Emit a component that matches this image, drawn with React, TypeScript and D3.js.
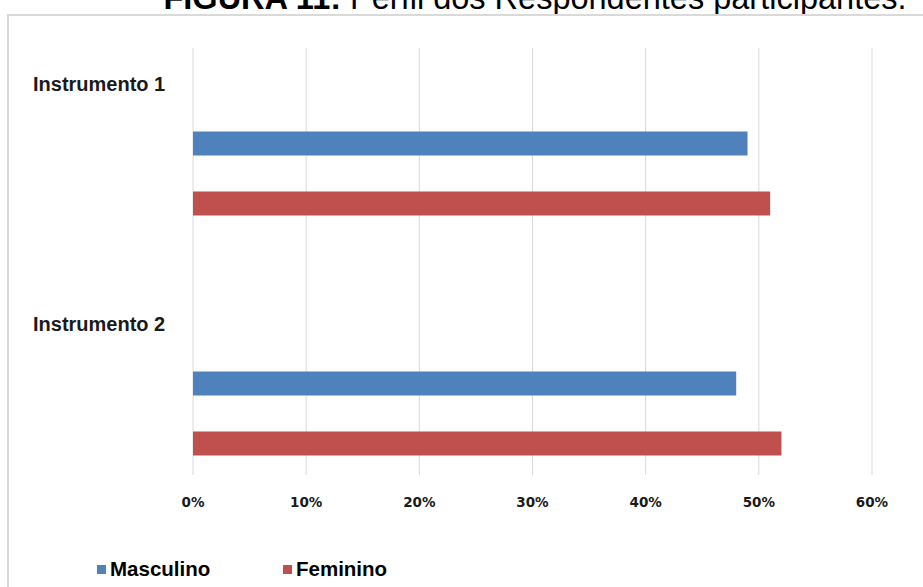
import React from "react";
import * as d3 from "d3";

const categories = ["Instrumento 1", "Instrumento 2"];
const seriesNames = ["Masculino", "Feminino"];
const masculino = [0.49, 0.48];
const feminino = [0.51, 0.52];
const tickValues = [0, 0.1, 0.2, 0.3, 0.4, 0.5, 0.6];
const colors = ["#4F81BD", "#C0504D"];

const W = 923;
const H = 587;

export default function App() {
  const rows: string[] = [];
  categories.forEach((c, i) => {
    rows.push(`cat-${i}`, `s0-${i}`, `s1-${i}`);
    if (i < categories.length - 1) rows.push(`gap-${i}`);
  });
  const y = d3.scaleBand<string>().domain(rows).range([53.5, 473.5]).paddingInner(0).paddingOuter(0);
  const x = d3.scaleLinear().domain([0, 0.6]).range([193, 872]);
  const barH = 24;
  const values = [masculino, feminino];
  const fmt = d3.format(".0%");
  const font = "'Liberation Sans', Arial, sans-serif";

  return (
    <svg width={W} height={H} style={{ position: "absolute", left: 0, top: 0, background: "#fff" }} fontFamily={font}>
      <rect x={0} y={0} width={W} height={H} fill="#fff" />
      {/* Title (cropped at top) */}
      <text x={535} y={9} textAnchor="middle" fontSize={32.5} fill="#000">
        <tspan fontWeight="bold">FIGURA 11:</tspan>
        <tspan> Perfil dos Respondentes participantes.</tspan>
      </text>
      {/* chart border */}
      <path d={`M8,${H + 5} V15 H${W + 5}`} fill="none" stroke="#d9d9d9" strokeWidth={2} />
      {/* gridlines */}
      {tickValues.map((t) => (
        <line key={t} x1={x(t)} x2={x(t)} y1={48} y2={475} stroke="#d9d9d9" strokeWidth={1} />
      ))}
      {/* bars */}
      {categories.map((c, i) =>
        values.map((vals, s) => {
          const band = y(`s${s}-${i}`)!;
          const cy = band + y.bandwidth() / 2;
          return (
            <rect
              key={`${i}-${s}`}
              x={x(0)}
              y={cy - barH / 2}
              width={x(vals[i]) - x(0)}
              height={barH}
              fill={colors[s]}
            />
          );
        })
      )}
      {/* category labels */}
      {categories.map((c, i) => (
        <text
          key={c}
          x={33}
          y={y(`cat-${i}`)! + y.bandwidth() / 2}
          dy="0.35em"
          fontSize={20}
          fontWeight="bold"
          fill="#1a1a1a"
        >
          {c}
        </text>
      ))}
      {/* tick labels */}
      {tickValues.map((t) => (
        <text key={t} x={x(t)} y={502} dy="0.35em" textAnchor="middle" fontWeight="bold" fill="#1a1a1a" fontFamily="'DejaVu Sans', sans-serif" style={{ fontSize: 13.5 }}>
          {fmt(t)}
        </text>
      ))}
      {/* legend */}
      {seriesNames.map((n, s) => {
        const lx = [97, 283][s];
        return (
          <g key={n}>
            <rect x={lx} y={565} width={9} height={9} fill={colors[s]} />
            <text x={lx + 13} y={568.5} dy="0.35em" fontSize={20.5} fontWeight="bold" fill="#000">
              {n}
            </text>
          </g>
        );
      })}
    </svg>
  );
}
